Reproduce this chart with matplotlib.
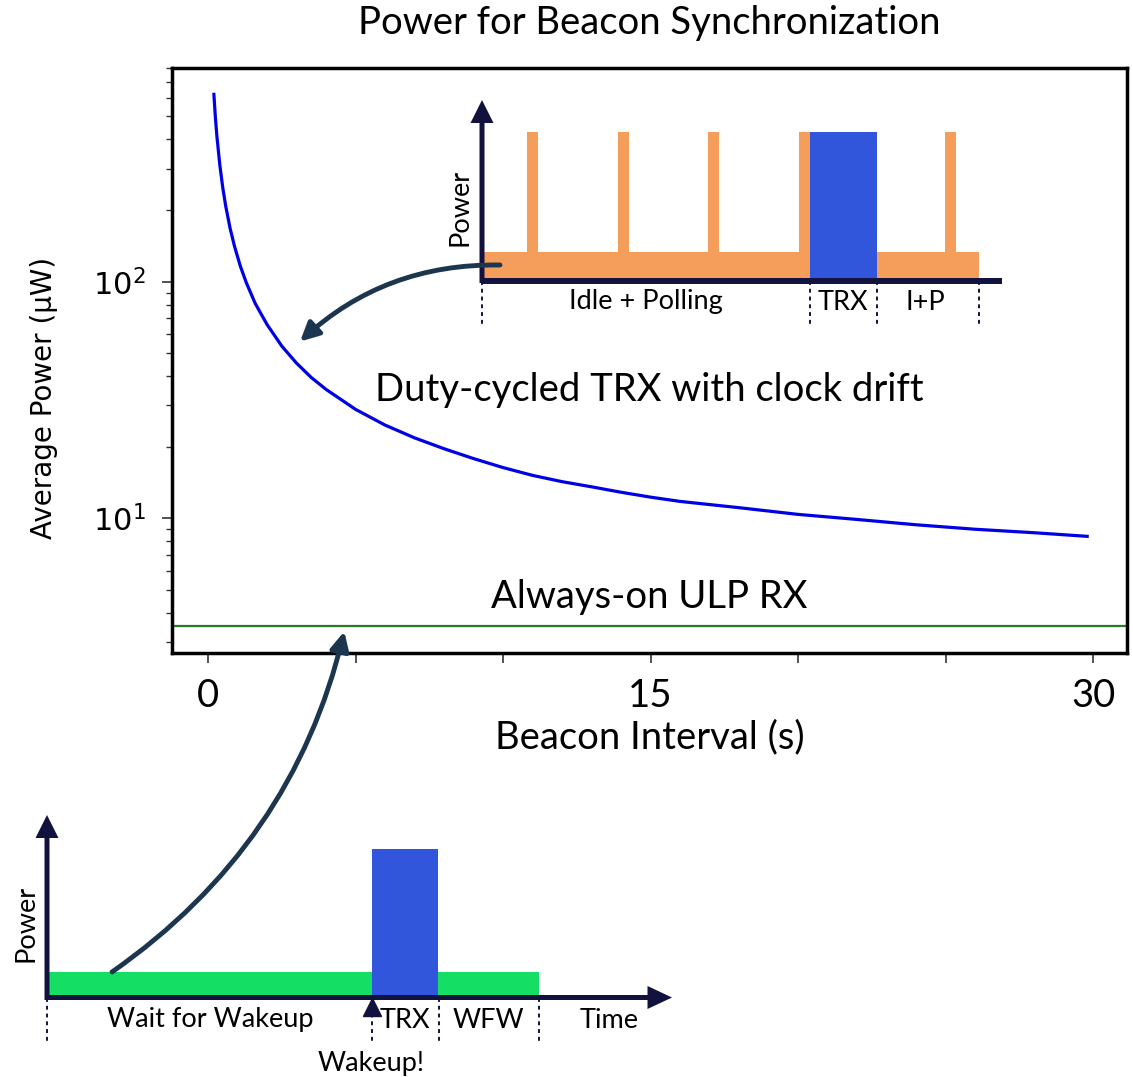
import numpy as np
import matplotlib
matplotlib.use('Agg')
import matplotlib.pyplot as plt
from matplotlib.patches import ConnectionPatch
from matplotlib.ticker import NullFormatter

# main chart data
beacon_interval_s = [0.2, 0.25, 0.3, 0.4, 0.5, 0.6, 0.75, 0.9, 1.1, 1.3, 1.6, 2.0, 2.5,
                     3.0, 3.5, 4.0, 5.0, 6.0, 7.0, 8.0, 9.0, 10, 11, 12, 13, 14, 15, 16,
                     18, 20, 22, 24, 26, 28, 29.8]
avg_power_uw = [619, 496, 414, 312, 250, 209, 168, 141, 116, 99, 81, 66, 53.5,
                45.3, 39.4, 35.1, 28.9, 24.8, 21.9, 19.7, 17.9, 16.4, 15.2, 14.3, 13.6, 12.9, 12.3, 11.8,
                11.1, 10.4, 9.9, 9.4, 9.0, 8.7, 8.4]
ulp_rx_power_uw = 3.5
x_ticks = [0, 5, 10, 15, 20, 25, 30]
x_tick_labels = ['0', '', '', '15', '', '', '30']

# schematic 1: duty-cycled TRX (time units, power units)
idle_end = 49.7
idle_level = 2.6
poll_starts = [4.5, 13.6, 22.6, 31.7, 46.3]
poll_width = 1.1
peak_level = 14.6
trx1_start, trx1_end = 32.8, 39.5
marks1 = [0, 32.8, 39.5, 49.7]
labels1 = [('Idle + Polling', 16.4), ('TRX', 36.1), ('I+P', 44.3)]

# schematic 2: always-on wakeup receiver
wfw_end = 49.2
wfw_level = 2.3
trx2_start, trx2_end = 32.45, 39.15
marks2 = [0, 32.45, 39.15, 49.2]
labels2 = [('Wait for Wakeup', 16.3), ('TRX', 35.8), ('WFW', 44.1), ('Time', 56.25)]

W, H = 1133, 1077
NAVY = '#12123f'
ORANGE = '#f59e5b'
BLUE = '#3155db'
GREEN = '#14df64'
ARROW = '#1c3650'
CAL = 'Lato'
BIG = 27.5
SMALL = 19.5

fig = plt.figure(figsize=(W / 100, H / 100), dpi=100)


def px_axes(x0, x1, y0, y1):
    return fig.add_axes([x0 / W, 1 - y1 / H, (x1 - x0) / W, (y1 - y0) / H])


# ---- main chart ----
ax = px_axes(172, 1127, 68, 653)
ax.plot(beacon_interval_s, avg_power_uw, color='#0000e6', lw=2.3)
ax.axhline(ulp_rx_power_uw, color='#2a7a2a', lw=1.6)
ax.set_yscale('log')
ax.set_xlim(-1.22, 31.15)
ax.set_ylim(2.7, 800)
ax.set_xticks(x_ticks)
ax.set_xticklabels(x_tick_labels, fontfamily=CAL, fontsize=BIG)
ax.yaxis.set_minor_formatter(NullFormatter())
ax.tick_params(axis='y', which='major', labelsize=22, length=7, width=1.2, pad=12, color='#333333')
ax.tick_params(axis='y', which='minor', length=4, width=1.0, color='#333333')
ax.tick_params(axis='x', length=7, width=1.2, pad=11, color='#333333')
ax.tick_params(top=False, right=False)
for s in ax.spines.values():
    s.set_linewidth(2.5)

ax.set_xlabel('Beacon Interval (s)', fontfamily=CAL, fontsize=BIG)
ax.xaxis.set_label_coords(0.5, -(737 - 653) / 585)
ax.xaxis.label.set_va('center')
ax.set_ylabel('Average Power (μW)', fontsize=20)
ax.yaxis.set_label_coords(-(172 - 44) / 955, (653 - 398) / 585)
ax.yaxis.label.set_va('center')
ax.text(0.5, 1 + (68 - 23) / 585, 'Power for Beacon Synchronization', transform=ax.transAxes,
        ha='center', va='center', fontfamily=CAL, fontsize=BIG)
ax.text(0.5, (653 - 390) / 585, 'Duty-cycled TRX with clock drift', transform=ax.transAxes,
        ha='center', va='center', fontfamily=CAL, fontsize=BIG)
ax.text(0.5, (653 - 597) / 585, 'Always-on ULP RX', transform=ax.transAxes,
        ha='center', va='center', fontfamily=CAL, fontsize=BIG)


def draw_marks(a, xs):
    for m in xs:
        a.plot([m, m], [-0.3, -4.7], color=NAVY, lw=1.4, ls=(0, (2, 2)), clip_on=False)


# ---- schematic 1 (upper inset) ----
a1 = px_axes(430, 1020, 90, 340)
a1.set_xlim((430 - 482) / 10, (1020 - 482) / 10)
a1.set_ylim((278 - 340) / 10, (278 - 90) / 10)
a1.axis('off')
a1.bar([0], [idle_level], width=idle_end, align='edge', color=ORANGE, lw=0)
a1.bar(poll_starts, [peak_level] * len(poll_starts), width=poll_width, align='edge', color=ORANGE, lw=0)
a1.bar([trx1_start], [peak_level], width=trx1_end - trx1_start, align='edge', color=BLUE, lw=0)
a1.plot([0, 52], [-0.25, -0.25], color=NAVY, lw=4.3, solid_capstyle='butt')
a1.arrow(0, -0.5, 0, 18.3, width=0.5, head_width=2.3, head_length=2.3,
         length_includes_head=True, color=NAVY, lw=0)
draw_marks(a1, marks1)
for txt, t in labels1:
    a1.text(t, -2.4, txt, ha='center', va='center', fontfamily=CAL, fontsize=SMALL)
a1.text(-2.15, 7.1, 'Power', rotation=90, ha='center', va='center', fontfamily=CAL, fontsize=SMALL)

# ---- schematic 2 (lower inset) ----
a2 = px_axes(0, 700, 800, 1077)
a2.set_xlim(-4.7, 65.3)
a2.set_ylim(-8.2, 19.5)
a2.axis('off')
a2.bar([0.2], [wfw_level], width=wfw_end - 0.2, align='edge', color=GREEN, lw=0)
a2.bar([trx2_start], [peak_level], width=trx2_end - trx2_start, align='edge', color=BLUE, lw=0)
a2.arrow(0, -0.25, 62.5, 0, width=0.5, head_width=2.3, head_length=2.45,
         length_includes_head=True, color=NAVY, lw=0)
a2.arrow(0, -0.5, 0, 18.5, width=0.5, head_width=2.3, head_length=2.3,
         length_includes_head=True, color=NAVY, lw=0)
draw_marks(a2, marks2)
a2.plot([trx2_start], [-1.15], marker='^', ms=13, color=NAVY, clip_on=False)
for txt, t in labels2:
    a2.text(t, -2.5, txt, ha='center', va='center', fontfamily=CAL, fontsize=SMALL)
a2.text(trx2_start, -6.8, 'Wakeup!', ha='center', va='center', fontfamily=CAL, fontsize=SMALL)
a2.text(-2.15, 7.2, 'Power', rotation=90, ha='center', va='center', fontfamily=CAL, fontsize=SMALL)

# ---- curved arrows linking schematics to curves ----
con1 = ConnectionPatch(xyA=(1.8, 1.3), coordsA=a1.transData,
                       xyB=(3.12, 55.9), coordsB=ax.transData,
                       arrowstyle='-|>', connectionstyle='arc3,rad=0.2',
                       color=ARROW, lw=3.5, mutation_scale=28)
fig.add_artist(con1)
con2 = ConnectionPatch(xyA=(6.5, 2.3), coordsA=a2.transData,
                       xyB=(4.62, 3.33), coordsB=ax.transData,
                       arrowstyle='-|>', connectionstyle='arc3,rad=0.19',
                       color=ARROW, lw=3.5, mutation_scale=28)
fig.add_artist(con2)

fig.savefig('out.png', dpi=100)
